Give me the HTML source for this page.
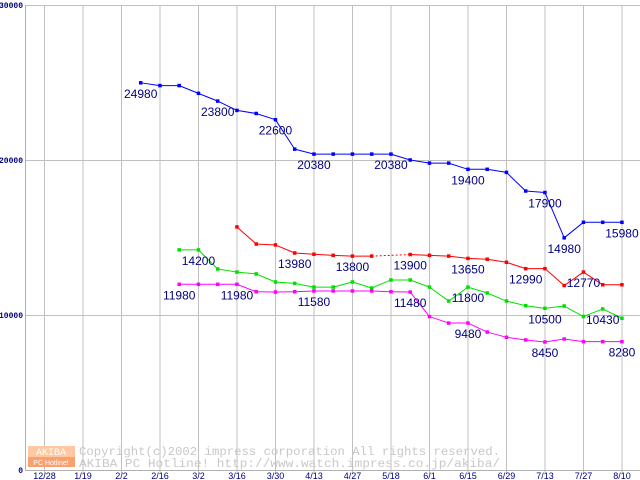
<!DOCTYPE html>
<html><head><meta charset="utf-8"><style>
body{margin:0;background:#fff;}
svg{display:block;font-family:"Liberation Sans",sans-serif;}
</style></head><body>
<svg id="chart" width="640" height="480" viewBox="0 0 640 480" xmlns="http://www.w3.org/2000/svg">
<g id="grid"></g>
<g id="watermark">
  <rect x="28" y="446" width="47" height="11" fill="#ffc8a0"/>
  <rect x="28" y="457" width="47" height="10" fill="#f8a070"/>
  <text x="51" y="455" font-size="10" fill="#fff" text-anchor="middle" font-family="Liberation Mono,monospace">AKIBA</text>
  <text x="51" y="465" font-size="7" fill="#fff" text-anchor="middle">PC Hotline!</text>
  <text x="79" y="455" font-size="11.5" fill="#c8c8c8" font-family="Liberation Mono,monospace" textLength="421" lengthAdjust="spacingAndGlyphs">Copyright(c)2002 impress corporation All rights reserved.</text>
  <text x="79" y="467" font-size="11.5" fill="#c8c8c8" font-family="Liberation Mono,monospace" textLength="421" lengthAdjust="spacingAndGlyphs">AKIBA PC Hotline!  http://www.watch.impress.co.jp/akiba/</text>
</g>
<g id="series"></g>
<g id="labels"></g>
</svg>
<script>
const xTicks = ["12/28","1/19","2/2","2/16","3/2","3/16","3/30","4/13","4/27","5/18","6/1","6/15","6/29","7/13","7/27","8/10"];
const yTicks = [0,10000,20000,30000];
const blueValues = [24980,24800,24800,24300,23800,23200,23000,22600,20700,20380,20380,20380,20380,20380,20000,19800,19800,19400,19400,19200,18000,17900,14980,15980,15980,15980];
const redValues = [null,null,null,null,null,15680,14580,14520,14000,13920,13850,13800,13800,null,13900,13850,13800,13650,13600,13400,12990,12990,11900,12770,11950,11950];
const greenValues = [null,null,14200,14200,12970,12770,12650,12130,12040,11800,11800,12130,11740,12260,12260,11800,10900,11800,11420,10900,10600,10430,10580,9900,10390,9790];
const magentaValues = [null,null,11980,11980,11980,11980,11500,11480,11500,11550,11550,11550,11550,11500,11480,9900,9480,9480,8900,8560,8390,8260,8450,8280,8280,8280];
const blueLabels = [[0,"24980"],[4,"23800"],[7,"22600"],[9,"20380"],[13,"20380"],[17,"19400"],[21,"17900"],[22,"14980"],[25,"15980"]];
const redLabels = [[8,"13980"],[11,"13800"],[14,"13900"],[17,"13650"],[20,"12990"],[23,"12770"]];
const greenLabels = [[3,"14200"],[17,"11800"],[21,"10500"],[24,"10430"]];
const magentaLabels = [[2,"11980"],[5,"11980"],[9,"11580"],[14,"11480"],[17,"9480"],[21,"8450"],[25,"8280"]];

const NS="http://www.w3.org/2000/svg";
function xAt(i){return 140.7+19.25*i;}
function yAt(v){return 470-v*0.0155;}
function tickX(k){return 44.5+38.5*k;}
function mk(tag,attrs,parent){const e=document.createElementNS(NS,tag);for(const k in attrs)e.setAttribute(k,attrs[k]);parent.appendChild(e);return e;}

const grid=document.getElementById('grid');
mk('rect',{x:0,y:0,width:640,height:480,fill:'#fff'},grid);
yTicks.forEach(v=>{
  if(v>0){const l=mk('line',{x1:25,x2:640,y1:yAt(v)+0.5,y2:yAt(v)+0.5,stroke:'#c0c0c0','stroke-width':1},grid);
  
  }
  const t=mk('text',{x:23,y:yAt(v)+3,'font-size':8,'font-weight':'bold',fill:'#000080','text-anchor':'end','font-family':'Liberation Mono,monospace'},grid);
  t.textContent=String(v);
  
  
});
xTicks.forEach((lab,k)=>{
  const x=tickX(k);
  const l=mk('line',{x1:x,x2:x,y1:5,y2:474,stroke:'#c0c0c0','stroke-width':1},grid);
  
  
  const t=mk('text',{x:x,y:479,'font-size':9,fill:'#000080','text-anchor':'middle'},grid);
  t.textContent=lab;
  
  
});
const ax=mk('line',{x1:25.5,x2:25.5,y1:5,y2:471,stroke:'#b0b0b0','stroke-width':1},grid);


const bx=mk('line',{x1:25,x2:640,y1:470.5,y2:470.5,stroke:'#b0b0b0','stroke-width':1},grid);



const sg=document.getElementById('series');
const lg=document.getElementById('labels');
function drawSeries(vals,color,name){
  const g=mk('g',{},sg);
  
  
  let prev=-1;
  for(let i=0;i<vals.length;i++){
    if(vals[i]==null)continue;
    if(prev>=0){
      const l=mk('line',{x1:xAt(prev),y1:yAt(vals[prev]),x2:xAt(i),y2:yAt(vals[i]),stroke:color,'stroke-width':1},g);
      if(i-prev>1)l.setAttribute('stroke-dasharray','2,2');
      
      
    }
    prev=i;
  }
  vals.forEach((v,i)=>{
    if(v==null)return;
    const r=mk('rect',{x:xAt(i)-1.75,y:yAt(v)-1.75,width:3.5,height:3.5,fill:color},g);
    
    
  });
}
function drawLabels(vals,labels,name){
  labels.forEach(([i,txt])=>{
    const t=mk('text',{x:xAt(i),y:yAt(vals[i])+15,'font-size':12,fill:'#000080','text-anchor':'middle'},lg);
    t.textContent=txt;
    
    
  });
}
drawSeries(blueValues,'#0000ff','blue');
drawSeries(redValues,'#ff0000','red');
drawSeries(greenValues,'#00e000','green');
drawSeries(magentaValues,'#ff00ff','magenta');
drawLabels(blueValues,blueLabels,'blue');
drawLabels(redValues,redLabels,'red');
drawLabels(greenValues,greenLabels,'green');
drawLabels(magentaValues,magentaLabels,'magenta');
</script>
</body></html>
